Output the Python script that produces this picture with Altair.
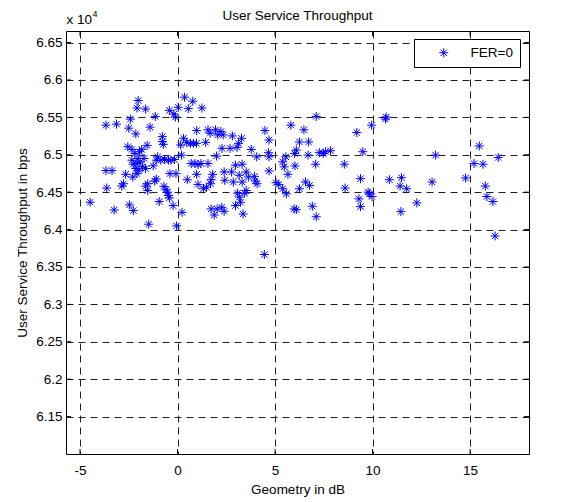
import altair as alt
import pandas as pd

# ---- data ----
geometry_db = [
    -2.02, -2.08, -1.64, -1.14, -2.42, -3.67, -3.13, -2.50, -2.14, -1.41,
    -0.42, -0.19, -0.11, 0.03, 0.36, 0.78, 0.55, 1.25, -0.78, -0.78,
    -0.73, -2.55, -2.34, -1.95, -1.84, -1.56, -1.02, -1.09, -2.27, -2.08,
    -2.14, -2.08, -2.30, -2.66, -3.67, -3.36, -1.72, -1.64, -1.25, -0.86,
    -0.67, -0.47, -0.34, -0.16, -0.08, -0.39, -1.53, -1.64, -1.17, -1.09,
    -2.86, -2.77, -3.63, -0.70, -0.59, -0.52, 0.20, 0.16, 0.31, 0.47,
    0.66, 0.81, 0.97, 0.98, 1.44, 1.56, 1.67, 1.95, 2.06, 2.22,
    2.34, 2.81, 3.28, 3.13, 3.05, 2.69, 2.28, 2.00, 0.70, 0.89,
    1.05, 1.20, 1.56, 0.98, 0.50, 1.05, 1.33, 1.48, 1.80, 1.72,
    1.69, 2.39, 2.42, 2.77, 2.86, 2.97, 3.16, 3.31, 3.31, 3.52,
    3.63, 3.94, 3.98, 4.08, 3.78, 4.06, 4.48, 4.69, 4.66, 4.69,
    4.69, 5.05, 5.19, 5.39, 5.39, 5.47, 5.55,
    -4.48, -3.25, -2.47, -2.27, -0.94, -0.23, 0.23, 1.72, 1.88, 2.03,
    2.27, 2.39, 2.97, 3.36, 3.08, 3.17, 3.23, 3.44, 3.52, 5.58,
    5.98, -1.53, -0.47, -0.42,
    -2.19, -2.03, -1.92, -1.80, -1.98, -2.34,
    -1.48, -0.05, 4.45,
    5.81, 7.11, 6.48, 6.25, 6.72, 6.09, 6.00, 6.69, 7.27, 7.47,
    7.58, 7.84, 7.08, 6.02, 5.66, 8.55, 9.50, 9.19, 9.95, 10.66,
    10.70, 13.23, 15.47, 15.20, 15.66, 16.44, 9.38, 8.59, 10.86, 11.48,
    11.41, 11.75, 13.05, 14.77, 15.78, 15.86, 16.17, 12.27, 11.45, 9.77,
    9.84, 9.97, 9.30, 9.38, 6.09, 6.91, 7.11, 6.56, 6.77, 6.25,
    16.28,
]
throughput_bps = [
    65725, 65626, 65612, 65513, 65477, 65396, 65410, 65356, 65280, 65370,
    65594, 65545, 65504, 65635, 65770, 65716, 65617, 65626, 65243, 65176,
    65140, 65108, 65072, 65041, 65072, 65126, 64973, 64928, 64874, 64883,
    64816, 64748, 64703, 64739, 64789, 64789, 64951, 64816, 64852, 64928,
    64937, 64928, 64928, 64937, 64748, 64748, 64613, 64582, 64649, 64676,
    64582, 64613, 64555, 64578, 64532, 64501, 64996, 65131, 65221, 65162,
    65153, 65153, 65153, 65324, 65167, 65334, 65288, 65334, 65266, 65311,
    65266, 65252, 65221, 65153, 65099, 65086, 65086, 64983, 64883, 64883,
    64870, 64883, 64883, 64739, 64667, 64604, 64546, 64568, 64739, 64667,
    64613, 64771, 64659, 64771, 64636, 64861, 64726, 64874, 64636, 64771,
    64703, 64712, 64649, 64613, 65072, 64973, 65324, 65198, 65028, 64973,
    64784, 64627, 64604, 64546, 64906, 64839, 64973,
    64366, 64262, 64330, 64254, 64375, 64321, 64231, 64276, 64195, 64276,
    64298, 64244, 64321, 64208, 64487, 64433, 64366, 64487, 64523, 64478,
    64276, 64523, 64456, 64424,
    65018, 64951, 64906, 64839, 64794, 64928,
    64072, 64050, 63667,
    65396, 65513, 65334, 65171, 65171, 65063, 65018, 64996, 65028, 65018,
    65041, 65054, 64874, 64852, 64739, 64874, 65041, 65298, 65396, 65478,
    65504, 64996, 65118, 64883, 64874, 64964, 64681, 64555, 64667, 64694,
    64582, 64546, 64636, 64690, 64582, 64442, 64375, 64357, 64240, 64501,
    64478, 64442, 64411, 64307, 64267, 64312, 64172, 64636, 64591, 64546,
    63915,
]
series_name = "FER=0"
x_ticks = [-5, 0, 5, 10, 15]
y_ticks = [61500, 62000, 62500, 63000, 63500, 64000, 64500, 65000, 65500, 66000, 66500]
chart_title = "User Service Throughput"
x_title = "Geometry in dB"
y_title = "User Service Throughput in bps"

# ---- chart ----
W, H = 463, 423
FONT = "Liberation Sans"
FS = 13.5
STAR = "M-1,0H1M0,-1V1M-0.7,-0.7L0.7,0.7M-0.7,0.7L0.7,-0.7"

df = pd.DataFrame({"geometry": geometry_db, "throughput": throughput_bps,
                   "series": [series_name] * len(geometry_db)})

xscale = alt.Scale(domain=[-5.72, 18.02], nice=False, zero=False)
yscale = alt.Scale(domain=[61000, 66655], nice=False, zero=False)

common_axis = dict(grid=True, gridDash=[7, 5], gridColor="#222222", gridWidth=1,
                   ticks=False, tickSize=0, domain=False, labelFont=FONT,
                   labelFontSize=FS, labelColor="black", titleFont=FONT,
                   titleFontSize=FS, titleFontWeight="normal", titleColor="black",
                   labelFlush=False, labelOverlap=False)

X_AX = alt.Axis(values=x_ticks, title=x_title, labelExpr="'' + datum.value",
                labelPadding=9, titleY=39, titleX=W / 2,
                titleBaseline="alphabetic", **common_axis)
Y_AX = alt.Axis(values=y_ticks, title=y_title,
                labelExpr="format(datum.value / 10000, '.2~f')",
                labelPadding=4, titleX=-44, titleY=H / 2, titleAngle=270,
                titleAlign="center", titleBaseline="middle", **common_axis)

points = alt.Chart(df).mark_point(
    shape=STAR, filled=False, size=81, strokeWidth=1, opacity=1
).encode(
    x=alt.X("geometry:Q", scale=xscale, axis=X_AX),
    y=alt.Y("throughput:Q", scale=yscale, axis=Y_AX),
    color=alt.Color("series:N", scale=alt.Scale(range=["#0000ff"]),
                    legend=alt.Legend(title=None, orient="none", legendX=348, legendY=8,
                                      symbolType=STAR, symbolSize=81, symbolStrokeWidth=1,
                                      symbolFillColor="transparent",
                                      labelFont=FONT, labelFontSize=FS, labelColor="black",
                                      strokeColor="black", fillColor="white",
                                      padding=7, symbolOffset=16, labelOffset=20)),
)

xt = pd.DataFrame({"geometry": x_ticks})
yt = pd.DataFrame({"throughput": y_ticks})
tick_x = alt.X("geometry:Q", scale=xscale, axis=X_AX)
tick_y = alt.Y("throughput:Q", scale=yscale, axis=Y_AX)
top_ticks = alt.Chart(xt).mark_rule(color="black", strokeWidth=1).encode(
    x=tick_x, y=alt.value(0), y2=alt.value(5))
bottom_ticks = alt.Chart(xt).mark_rule(color="black", strokeWidth=1).encode(
    x=tick_x, y=alt.value(H - 5), y2=alt.value(H))
left_ticks = alt.Chart(yt).mark_rule(color="black", strokeWidth=1).encode(
    y=tick_y, x=alt.value(0), x2=alt.value(5))
right_ticks = alt.Chart(yt).mark_rule(color="black", strokeWidth=1).encode(
    y=tick_y, x=alt.value(W - 5), x2=alt.value(W))

title_text = alt.Chart(pd.DataFrame({"t": [chart_title]})).mark_text(
    font=FONT, fontSize=FS, color="black", align="center", baseline="alphabetic"
).encode(text="t:N", x=alt.value(W / 2), y=alt.value(-10.6))

exp_base = alt.Chart(pd.DataFrame({"t": ["x 10"]})).mark_text(
    font=FONT, fontSize=FS, color="black", align="left", baseline="alphabetic"
).encode(text="t:N", x=alt.value(0.5), y=alt.value(-7.3))
exp_sup = alt.Chart(pd.DataFrame({"t": ["4"]})).mark_text(
    font=FONT, fontSize=9, color="black", align="left", baseline="alphabetic"
).encode(text="t:N", x=alt.value(26.5), y=alt.value(-14.3))

chart = alt.layer(
    points, top_ticks, bottom_ticks, left_ticks, right_ticks,
    title_text, exp_base, exp_sup
).properties(
    width=W, height=H,
    padding={"left": 58, "top": 23, "right": 38, "bottom": 48},
    autosize=alt.AutoSizeParams(type="none"),
    background="white",
).configure_view(stroke="black", strokeWidth=1)

chart.save("out.html", embed_options={"renderer": "svg", "actions": False})
